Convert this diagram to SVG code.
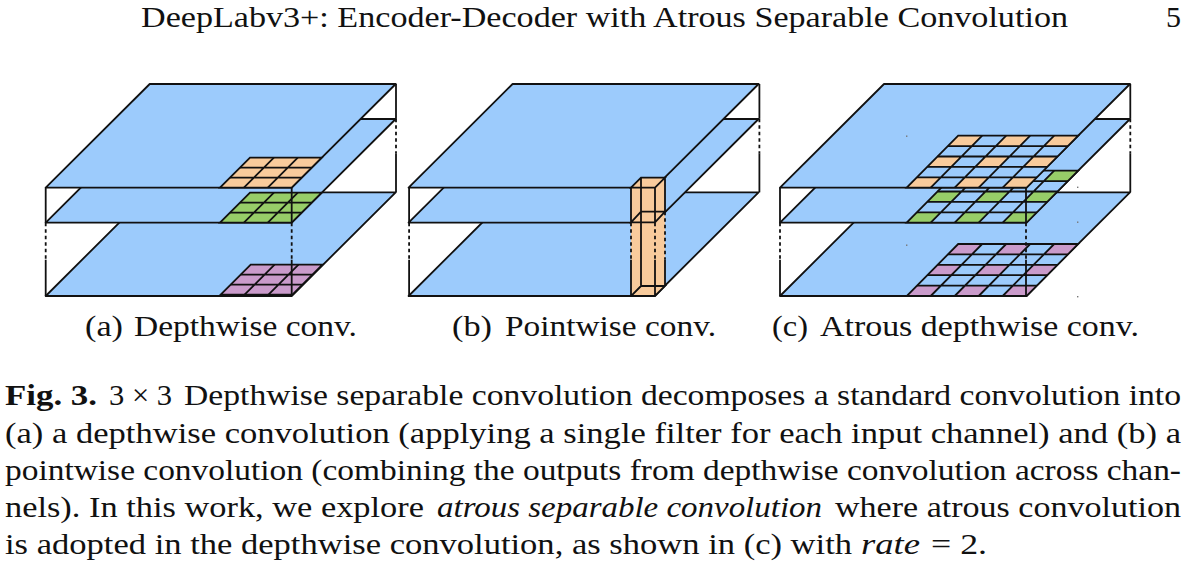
<svg xmlns="http://www.w3.org/2000/svg" width="1187" height="567" viewBox="0 0 1187 567">
<style>
text{font-family:"Liberation Serif","Times New Roman",serif;fill:#111;font-size:28.5px}
.pl{fill:#9ccbfc;stroke:#111;stroke-width:1.8;stroke-linejoin:round}
.ln{fill:none;stroke:#111;stroke-width:1.8}
.dash{fill:none;stroke:#111;stroke-width:1.8;stroke-dasharray:3.5 3}
.g{fill:none;stroke:#111;stroke-width:1.8}
.o{fill:#f8cb9c}.gr{fill:#97cd68}.m{fill:#ca9bcb}
.dot{fill:#777}
</style>
<defs>
<g id="box">
<path class="ln" d="M350.3 -103.7V-69"/>
<path class="dash" d="M350.3 -69V-34"/>
<path class="ln" d="M350.3 -34V4.6"/>
<path class="ln" d="M0 0V35"/>
<path class="dash" d="M0 35V72"/>
<path class="ln" d="M0 72V108.3"/>
</g>
<path id="plane" d="M0 0H246L350 -103.7H104Z"/>
<g id="grid3">
<path d="M0 0H71.7L101.7 -30H30Z"/>
<path class="g" d="M10 -10H81.7M20 -20H91.7M23.9 0L53.9 -30M47.8 0L77.8 -30"/>
<path class="g" d="M0 0H71.7L101.7 -30H30Z"/>
</g>
<g id="grid5">
<path class="pl" style="stroke:none" d="M0 0H120L171.5 -52H51.5Z"/>
<g>
<path d="M0 0H24L34.3 -10.4H10.3Z"/>
<path d="M48 0H72L82.3 -10.4H58.3Z"/>
<path d="M96 0H120L130.3 -10.4H106.3Z"/>
<path d="M20.6 -20.8H44.6L54.9 -31.2H30.9Z"/>
<path d="M68.6 -20.8H92.6L102.9 -31.2H78.9Z"/>
<path d="M116.6 -20.8H140.6L150.9 -31.2H126.9Z"/>
<path d="M41.2 -41.6H65.2L75.5 -52H51.5Z"/>
<path d="M89.2 -41.6H113.2L123.5 -52H99.5Z"/>
<path d="M137.2 -41.6H161.2L171.5 -52H147.5Z"/>
</g>
<path class="g" d="M10.3 -10.4H130.3M20.6 -20.8H140.6M30.9 -31.2H150.9M41.2 -41.6H161.2M24 0L75.5 -52M48 0L99.5 -52M72 0L123.5 -52M96 0L147.5 -52"/>
<path class="g" d="M0 0H120L171.5 -52H51.5Z"/>
</g>
</defs>
<g id="header">
<text x="141" y="27" textLength="927" lengthAdjust="spacingAndGlyphs">DeepLabv3+: Encoder-Decoder with Atrous Separable Convolution</text>
<text x="1166" y="27" textLength="15" lengthAdjust="spacingAndGlyphs">5</text>
</g>
<g id="connectors"></g>
<g id="panel-a" transform="translate(45.7 187.7)">
<use href="#box"/>
<use href="#plane" class="pl" y="108.3"/>
<g class="m"><use href="#grid3" x="175" y="107"/></g>
<use href="#plane" class="pl" y="35"/>
<g class="gr"><use href="#grid3" x="174.3" y="35"/></g>
<use href="#plane" class="pl"/>
<g class="o"><use href="#grid3" x="174.3"/></g>
<path class="ln" d="M246 0V35"/><path class="dash" d="M246 35V72"/><path class="ln" d="M246 72V108.3"/>
</g>
<g id="panel-b" transform="translate(408.6 187.7)">
<use href="#box" x="0.5"/>
<use href="#plane" class="pl" y="108.3"/>
<use href="#plane" class="pl" y="35"/>
<use href="#plane" class="pl"/>
<path class="o" d="M222.4 0L232.4 -10H256.4V98.3L246.4 108.3H222.4Z"/>
<path class="ln" d="M222.4 0H246.4L256.4 -10H232.4ZM222.4 34.7H246.4L256.4 24H232.4ZM222.4 108.3H246.4L256.4 98.3H232.4ZM232.4 -10V98.3M222.4 0V35M246.4 0V35M256.4 -10V24M222.4 72V108.3M246.4 72V108.3M256.4 72V98.3"/>
<path class="dash" d="M222.4 35V72M246.4 35V72M256.4 24V72"/>
</g>
<g id="panel-c" transform="translate(780 187.7)">
<use href="#box"/>
<use href="#plane" class="pl" y="108.3"/>
<g class="m"><use href="#grid5" x="126.7" y="108.3"/></g>
<use href="#plane" class="pl" y="35"/>
<g class="gr"><use href="#grid5" x="126.7" y="35"/></g>
<use href="#plane" class="pl"/>
<g class="o"><use href="#grid5" x="126.7"/></g>
<path class="ln" d="M246 0V35"/><path class="dash" d="M246 35V72"/><path class="ln" d="M246 72V108.3"/>
</g>
<g id="dots">
<rect class="dot" x="906" y="135.5" width="1.4" height="1.4"/>
<rect class="dot" x="906" y="244.5" width="1.4" height="1.4"/>
<rect class="dot" x="1077" y="186.6" width="1.4" height="1.4"/>
<rect class="dot" x="1077" y="221.5" width="1.4" height="1.4"/>
<rect class="dot" x="1077" y="296" width="1.4" height="1.4"/>
</g>
<g id="subcaptions">
<text x="85" y="336" textLength="38" lengthAdjust="spacingAndGlyphs">(a)</text>
<text x="134" y="336" textLength="223" lengthAdjust="spacingAndGlyphs">Depthwise conv.</text>
<text x="452" y="336" textLength="40" lengthAdjust="spacingAndGlyphs">(b)</text>
<text x="505" y="336" textLength="211" lengthAdjust="spacingAndGlyphs">Pointwise conv.</text>
<text x="772" y="336" textLength="36" lengthAdjust="spacingAndGlyphs">(c)</text>
<text x="820" y="336" textLength="319" lengthAdjust="spacingAndGlyphs">Atrous depthwise conv.</text>
</g>
<g id="caption">
<text x="5" y="405" font-weight="bold" textLength="92" lengthAdjust="spacingAndGlyphs">Fig. 3.</text>
<text x="109" y="405" textLength="63" lengthAdjust="spacingAndGlyphs">3 × 3</text>
<text x="184" y="405" textLength="997" lengthAdjust="spacingAndGlyphs">Depthwise separable convolution decomposes a standard convolution into</text>
<text x="5" y="443" textLength="1176" lengthAdjust="spacingAndGlyphs">(a) a depthwise convolution (applying a single filter for each input channel) and (b) a</text>
<text x="5" y="480" textLength="1176" lengthAdjust="spacingAndGlyphs">pointwise convolution (combining the outputs from depthwise convolution across chan-</text>
<text x="5" y="517" textLength="419" lengthAdjust="spacingAndGlyphs">nels). In this work, we explore</text>
<text x="437" y="517" font-style="italic" textLength="385" lengthAdjust="spacingAndGlyphs">atrous separable convolution</text>
<text x="835" y="517" textLength="346" lengthAdjust="spacingAndGlyphs">where atrous convolution</text>
<text x="5" y="554" textLength="847" lengthAdjust="spacingAndGlyphs">is adopted in the depthwise convolution, as shown in (c) with</text>
<text x="861" y="554" font-style="italic" textLength="59" lengthAdjust="spacingAndGlyphs">rate</text>
<text x="931" y="554" textLength="56" lengthAdjust="spacingAndGlyphs">= 2.</text>
</g>
</svg>
